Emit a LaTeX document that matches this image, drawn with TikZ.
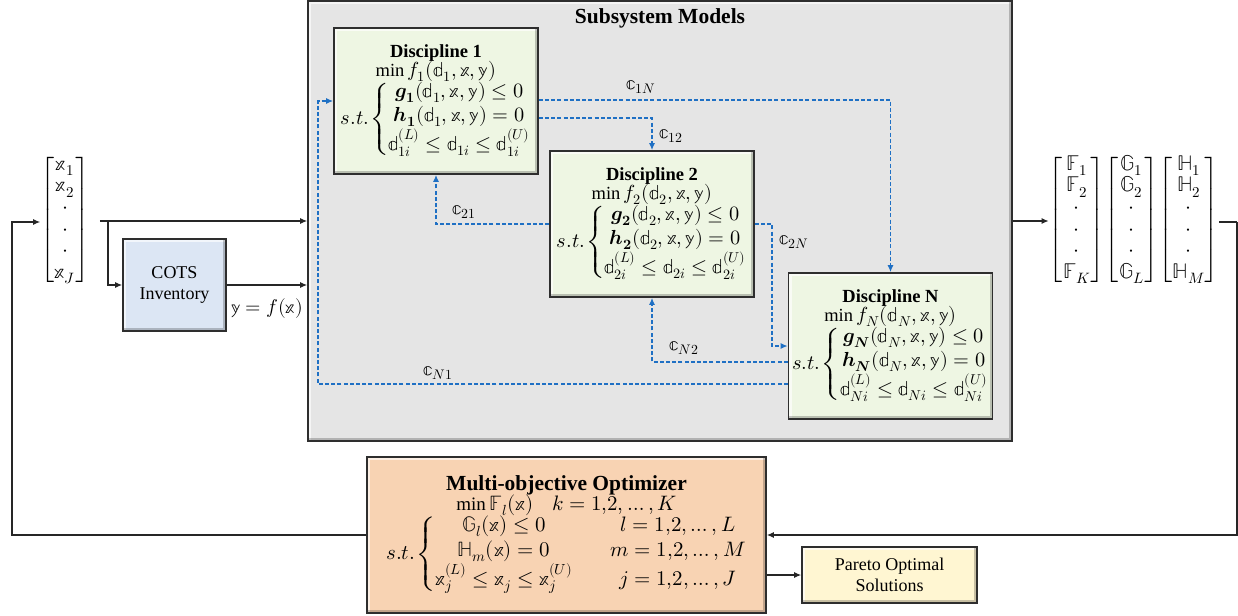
\documentclass[tikz,border=0pt]{standalone}
\usepackage{amsmath}
\usepackage{unicode-math}
\setmainfont{Liberation Serif}
\setmathfont{latinmodern-math.otf}[Scale=1.1]
\usetikzlibrary{arrows.meta,calc}

\definecolor{subgray}{HTML}{E5E5E5}
\definecolor{discgreen}{HTML}{EEF6E3}
\definecolor{cotsblue}{HTML}{DCE6F4}
\definecolor{optpeach}{HTML}{F8D3B3}
\definecolor{paretoyellow}{HTML}{FFF6D2}
\definecolor{cplblue}{HTML}{1F70C4}
\definecolor{boxline}{HTML}{2E2E2E}

\newcommand{\dsx}{\mathbb{x}}
\newcommand{\dsy}{\mathbb{y}}
\newcommand{\dsd}{\mathbb{d}}
\newcommand{\dsc}{\mathbb{c}}
\newcommand{\stcond}{s.t.\mkern-2mu}
\newcommand{\idxrange}[1]{1{,}2{,}\,{\dots}\,{,}\,#1}
\newcommand{\titlefont}{\fontsize{18.5}{22}\selectfont\bfseries}
\renewcommand{\arraystretch}{1.08}

\tikzset{
  bevel/.style={path picture={
    \draw[white,opacity=.65,line width=6pt]
      (path picture bounding box.south west) |- (path picture bounding box.north east);
    \draw[black,opacity=.22,line width=6pt]
      (path picture bounding box.south west) -| (path picture bounding box.north east);
  }},
  box/.style={draw=boxline,line width=1.6pt,bevel,inner sep=0pt,align=center,
    font=\fontsize{18}{21.5}\selectfont},
  disc/.style={box,fill=discgreen,minimum width=204pt,minimum height=146pt,
    font=\fontsize{18.5}{22.5}\selectfont},
  arr/.style={draw=black!85,line width=1.2pt,-{Latex[length=7pt,width=6pt]}},
  wire/.style={draw=black!85,line width=1.2pt},
  cpl/.style={draw=cplblue,line width=1.4pt,dash pattern=on 4pt off 2.2pt,
    -{Latex[length=7pt,width=6pt]}},
  cpllab/.style={font=\fontsize{18}{20}\selectfont,inner sep=0pt},
  vec/.style={inner sep=0pt,font=\fontsize{19.5}{20}\selectfont},
}

\begin{document}
\begin{tikzpicture}[x=1pt,y=-1pt]
\useasboundingbox (0,0) rectangle (1238,615);

% subsystem container
\node[box,fill=subgray,minimum width=704pt,minimum height=440pt] (sub) at (660,221) {};
\node[font=\fontsize{21.5}{24}\selectfont\bfseries] (subtitle) at (660,18) {Subsystem Models};

% disciplines
\node[disc] (d1) at (436,101) {{\titlefont Discipline 1}\\[-3pt]
  $\min f_1(\dsd_1,\dsx,\dsy)$\\[-2pt]
  $\stcond\left\{\begin{array}{@{}c@{}}
    \symbfit{g}_{\symbf{1}}(\dsd_1,\dsx,\dsy)\le 0\\
    \symbfit{h}_{\symbf{1}}(\dsd_1,\dsx,\dsy)= 0\\
    \dsd_{1i}^{(L)}\le\dsd_{1i}\le\dsd_{1i}^{(U)}
  \end{array}\right.$};

\node[disc] (d2) at (652,224) {{\titlefont Discipline 2}\\[-3pt]
  $\min f_2(\dsd_2,\dsx,\dsy)$\\[-2pt]
  $\stcond\left\{\begin{array}{@{}c@{}}
    \symbfit{g}_{\symbf{2}}(\dsd_2,\dsx,\dsy)\le 0\\
    \symbfit{h}_{\symbf{2}}(\dsd_2,\dsx,\dsy)= 0\\
    \dsd_{2i}^{(L)}\le\dsd_{2i}\le\dsd_{2i}^{(U)}
  \end{array}\right.$};

\node[disc] (dN) at (890.5,346) {{\titlefont Discipline N}\\[-3pt]
  $\min f_N(\dsd_N,\dsx,\dsy)$\\[-2pt]
  $\stcond\left\{\begin{array}{@{}c@{}}
    \symbfit{g}_{\symbfit{N}}(\dsd_N,\dsx,\dsy)\le 0\\
    \symbfit{h}_{\symbfit{N}}(\dsd_N,\dsx,\dsy)= 0\\
    \dsd_{Ni}^{(L)}\le\dsd_{Ni}\le\dsd_{Ni}^{(U)}
  \end{array}\right.$};

% input and output vectors
\node[vec] (vin) at (65,220) {$\begin{bmatrix}\dsx_1\\ \dsx_2\\ \cdot\\ \cdot\\ \cdot\\ \dsx_J\end{bmatrix}$};
\node[vec] (vout) at (1134,220) {$\begin{bmatrix}\mathbb{F}_1\\ \mathbb{F}_2\\ \cdot\\ \cdot\\ \cdot\\ \mathbb{F}_K\end{bmatrix}
  \!\begin{bmatrix}\mathbb{G}_1\\ \mathbb{G}_2\\ \cdot\\ \cdot\\ \cdot\\ \mathbb{G}_L\end{bmatrix}
  \!\begin{bmatrix}\mathbb{H}_1\\ \mathbb{H}_2\\ \cdot\\ \cdot\\ \cdot\\ \mathbb{H}_M\end{bmatrix}$};

% COTS inventory
\node[box,fill=cotsblue,minimum width=103pt,minimum height=92pt] (cots) at (174.5,285) {COTS\\Inventory};
\node[inner sep=0pt,font=\fontsize{18}{21}\selectfont] (ylab) at (267,309) {$\dsy=f(\dsx)$};

% optimizer
\node[box,fill=optpeach,minimum width=399pt,minimum height=156pt,
      font=\fontsize{19}{22.5}\selectfont] (opt) at (566.5,535) {%
  {\fontsize{21.5}{24}\selectfont\bfseries Multi-objective Optimizer}\\[-3pt]
  $\min \mathbb{F}_l(\dsx)\quad k=\idxrange{K}$\\[-2pt]
  $\stcond\left\{\begin{array}{@{}c@{\qquad}c@{}}
    \mathbb{G}_l(\dsx)\le 0 & l=\idxrange{L}\\
    \mathbb{H}_m(\dsx)=0 & m=\idxrange{M}\\
    \dsx_j^{(L)}\le\dsx_j\le\dsx_j^{(U)} & j=\idxrange{J}
  \end{array}\right.$};

% Pareto solutions
\node[box,fill=paretoyellow,minimum width=175pt,minimum height=56pt] (pareto) at (889.5,575) {Pareto Optimal\\Solutions};

% main data flow
\coordinate (fbL) at (12,222);
\coordinate (br) at (108,222);
\coordinate (fbR) at (1237,222);
\draw[arr] (opt.west) -| (fbL) -- (fbL -| vin.west);
\draw[arr] ([xshift=10pt]vin.east |- sub.west) -- (sub.west);
\draw[arr] (br) |- (cots.west);
\draw[arr] (cots.east) -- (cots.east -| sub.west);
\draw[arr] (sub.east) -- (sub.east -| vout.west);
\draw[wire] (vout.east |- fbR) -- (fbR);
\draw[arr] (fbR) |- (opt.east);
\draw[arr] (pareto.west -| opt.east) -- (pareto.west);

% coupling variables between disciplines
\coordinate (k2N) at (772,0);
\coordinate (kN1) at (318,0);
\draw[cpl] ([yshift=1pt]d1.east) -| (dN.north);
\draw[cpl] ([yshift=-17pt]d1.east) -| (d2.north);
\draw[cpl] (d2.west) -| (d1.south);
\draw[cpl] (d2.east) -- (k2N |- d2.east) -- (k2N |- dN.west) -- (dN.west);
\draw[cpl] ([yshift=-16pt]dN.west) -| (d2.south);
\draw[cpl] ([yshift=-38pt]dN.west) -| (kN1 |- d1.west) -- (d1.west);

\node[cpllab] (c1N) at (641,87) {$\dsc_{1N}$};
\node[cpllab] (c12) at (671,136) {$\dsc_{12}$};
\node[cpllab] (c21) at (464,212) {$\dsc_{21}$};
\node[cpllab] (c2N) at (794,242) {$\dsc_{2N}$};
\node[cpllab] (cN2) at (684,348) {$\dsc_{N2}$};
\node[cpllab] (cN1) at (438,373) {$\dsc_{N1}$};
\end{tikzpicture}
\end{document}
